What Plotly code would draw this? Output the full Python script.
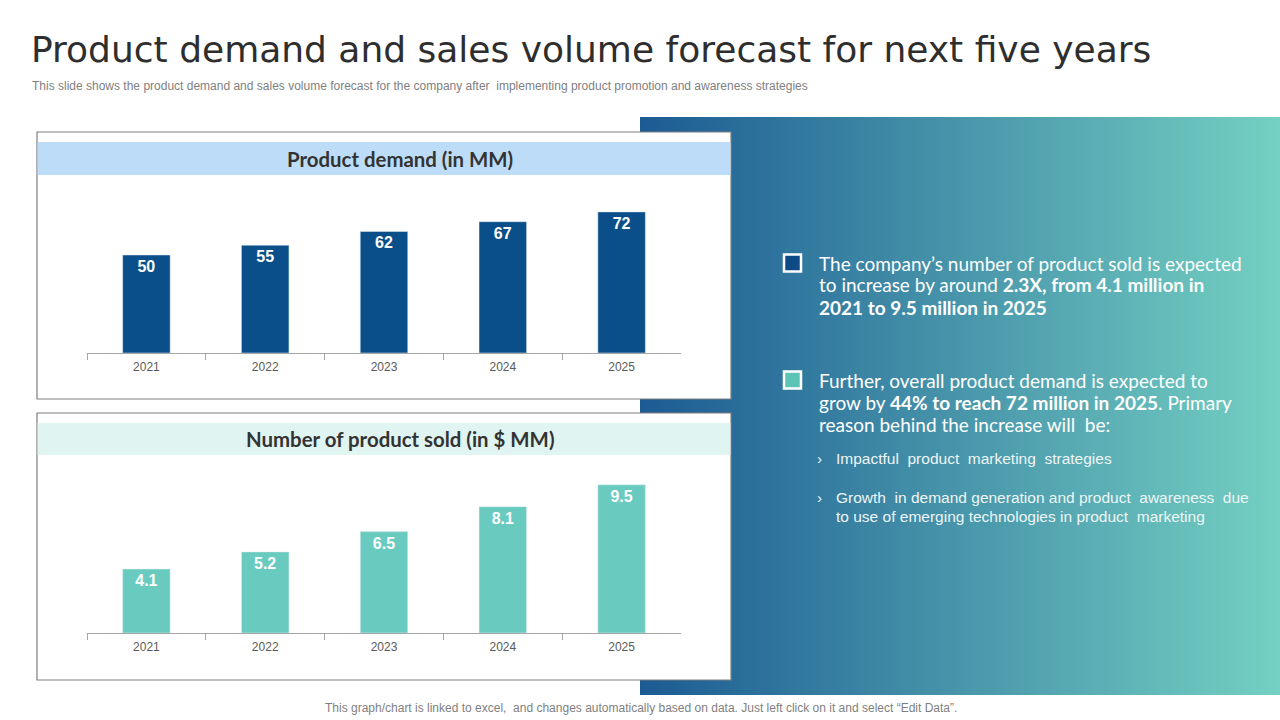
import plotly.graph_objects as go

# ---------------- data ----------------
years = ["2021", "2022", "2023", "2024", "2025"]
product_demand = [50, 55, 62, 67, 72]
product_sold = [4.1, 5.2, 6.5, 8.1, 9.5]

title_text = "Product demand and sales volume forecast for next five years"
subtitle_text = ("This slide shows the product demand and sales volume forecast for the company "
                 "after  implementing product promotion and awareness strategies")
footer_text = ("This graph/chart is linked to excel,  and changes automatically based on data. "
               "Just left click on it and select \u201cEdit Data\u201d.")
chart1_title = "Product demand (in MM)"
chart2_title = "Number of product sold (in $ MM)"

W, H = 1280, 720


def px(x):
    return x / W


def py(y):
    return 1 - y / H


fig = go.Figure()

DARK = "#0b4f8a"
TEAL = "#69cbbf"
label_font = dict(family="Liberation Sans, Arial, sans-serif", size=16,
                  color="white", weight="bold")

fig.add_trace(go.Bar(x=years, y=product_demand, marker_color=DARK, width=0.4,
                     text=[str(v) for v in product_demand], textposition="inside",
                     insidetextanchor="end", textangle=0, textfont=label_font,
                     xaxis="x", yaxis="y", hoverinfo="skip", showlegend=False))
fig.add_trace(go.Bar(x=years, y=product_sold, marker_color=TEAL, width=0.4,
                     text=[str(v) for v in product_sold], textposition="inside",
                     insidetextanchor="end", textangle=0, textfont=label_font,
                     xaxis="x2", yaxis="y2", hoverinfo="skip", showlegend=False))

tick_font = dict(family="Liberation Sans, Arial, sans-serif", size=12, color="#595959")
xaxis_common = dict(type="category", range=[-0.5, 4.5], showline=True, linecolor="#a6a6a6",
                    linewidth=1, ticks="outside", tickson="boundaries", ticklen=6,
                    tickcolor="#a6a6a6", showgrid=False, zeroline=False, tickfont=tick_font,
                    ticklabelstandoff=3, fixedrange=True)
yaxis_common = dict(visible=False, showgrid=False, zeroline=False, fixedrange=True)

shapes = []
# gradient panel built from thin strips
c0 = (28, 91, 147)
c1 = (116, 208, 194)
n = 128
x0p, x1p = 640, 1280
for i in range(n):
    t = (i + 0.5) / n
    col = tuple(round(c0[k] + (c1[k] - c0[k]) * t) for k in range(3))
    xa = x0p + (x1p - x0p) * i / n
    xb = x0p + (x1p - x0p) * (i + 1) / n + 0.6
    shapes.append(dict(type="rect", xref="paper", yref="paper", x0=px(xa), x1=px(min(xb, 1280)),
                       y0=py(695), y1=py(117), fillcolor="rgb(%d,%d,%d)" % col,
                       line=dict(width=0), layer="below"))

# chart boxes
for (top, bot, htop, hbot, hcol) in [(132, 399, 142, 175, "#bddcf8"), (413, 680, 423, 455, "#e0f4f2")]:
    shapes.append(dict(type="rect", xref="paper", yref="paper", x0=px(37), x1=px(731),
                       y0=py(bot), y1=py(top), fillcolor="white",
                       line=dict(color="#7f7f7f", width=1.2), layer="below"))
    shapes.append(dict(type="rect", xref="paper", yref="paper", x0=px(37.6), x1=px(730.4),
                       y0=py(hbot), y1=py(htop), fillcolor=hcol,
                       line=dict(width=0), layer="below"))

# checkboxes
for (cy, fill) in [(263, "#0e4a86"), (380, "#5cc4b6")]:
    shapes.append(dict(type="rect", xref="paper", yref="paper", x0=px(784), x1=px(801),
                       y0=py(cy + 8.5), y1=py(cy - 8.5), fillcolor=fill,
                       line=dict(color="white", width=2.5), layer="above"))

annotations = []
annotations.append(dict(text=title_text, x=px(29), y=py(50), xref="paper", yref="paper",
                        xanchor="left", yanchor="middle", showarrow=False,
                        font=dict(family="DejaVu Sans, Open Sans, sans-serif", size=36,
                                  color="#2e2e2e")))
annotations.append(dict(text=subtitle_text, x=px(30), y=py(86), xref="paper", yref="paper",
                        xanchor="left", yanchor="middle", showarrow=False,
                        font=dict(family="Liberation Sans, Arial, sans-serif", size=12,
                                  color="#7f7f7f")))
annotations.append(dict(text=footer_text, x=px(641), y=py(708), xref="paper", yref="paper",
                        xanchor="center", yanchor="middle", showarrow=False,
                        font=dict(family="Liberation Sans, Arial, sans-serif", size=12,
                                  color="#7f7f7f")))
hdr_font = dict(family="Lato, Open Sans, sans-serif", size=20.4, color="#333333", weight="bold")
annotations.append(dict(text=chart1_title, x=px(400), y=py(158.5), xref="paper", yref="paper",
                        xanchor="center", yanchor="middle", showarrow=False, font=hdr_font))
annotations.append(dict(text=chart2_title, x=px(400), y=py(439), xref="paper", yref="paper",
                        xanchor="center", yanchor="middle", showarrow=False, font=hdr_font))

body_font = dict(family="Lato, Open Sans, sans-serif", size=19, color="white")
block1 = ["The company\u2019s number of product sold is expected",
          "to increase by around <b>2.3X, from 4.1 million in</b>",
          "<b>2021 to 9.5 million in 2025</b>"]
block2 = ["Further, overall product demand is expected to",
          "grow by <b>44% to reach 72 million in 2025</b>. Primary",
          "reason behind the increase will  be:"]
for i, line in enumerate(block1):
    annotations.append(dict(text=line, x=px(817), y=py(263 + 22 * i), xref="paper", yref="paper",
                            xanchor="left", yanchor="middle", showarrow=False, font=body_font))
for i, line in enumerate(block2):
    annotations.append(dict(text=line, x=px(817), y=py(380 + 22 * i), xref="paper", yref="paper",
                            xanchor="left", yanchor="middle", showarrow=False, font=body_font))

sub_font = dict(family="Liberation Sans, Arial, sans-serif", size=15.5, color="#eef5f7")
subs = [(459, "Impactful  product  marketing  strategies", True),
        (497, "Growth  in demand generation and product  awareness  due", True),
        (516, "to use of emerging technologies in product  marketing", False)]
for (yy, txt, bullet) in subs:
    if bullet:
        annotations.append(dict(text="\u203a", x=px(819), y=py(yy), xref="paper", yref="paper",
                                xanchor="center", yanchor="middle", showarrow=False, font=sub_font))
    annotations.append(dict(text=txt, x=px(834), y=py(yy), xref="paper", yref="paper",
                            xanchor="left", yanchor="middle", showarrow=False, font=sub_font))

# plot areas: axis baselines at y=353 and y=633, x from 87 to 681
fig.update_layout(
    width=W, height=H, margin=dict(l=0, r=0, t=0, b=0),
    paper_bgcolor="white", plot_bgcolor="rgba(0,0,0,0)",
    xaxis=dict(domain=[px(87), px(681)], anchor="y", **xaxis_common),
    yaxis=dict(domain=[py(353), py(353 - 80 * 1.96)], range=[0, 80], anchor="x", **yaxis_common),
    xaxis2=dict(domain=[px(87), px(681)], anchor="y2", **xaxis_common),
    yaxis2=dict(domain=[py(633), py(633 - 10 * 15.6)], range=[0, 10], anchor="x2", **yaxis_common),
    shapes=shapes, annotations=annotations, bargap=0.6,
    uniformtext=dict(minsize=10, mode="show"),
)

fig.write_html("out.html", config={"displayModeBar": False},
               post_script="document.body.style.margin='0';document.body.style.overflow='hidden';")
